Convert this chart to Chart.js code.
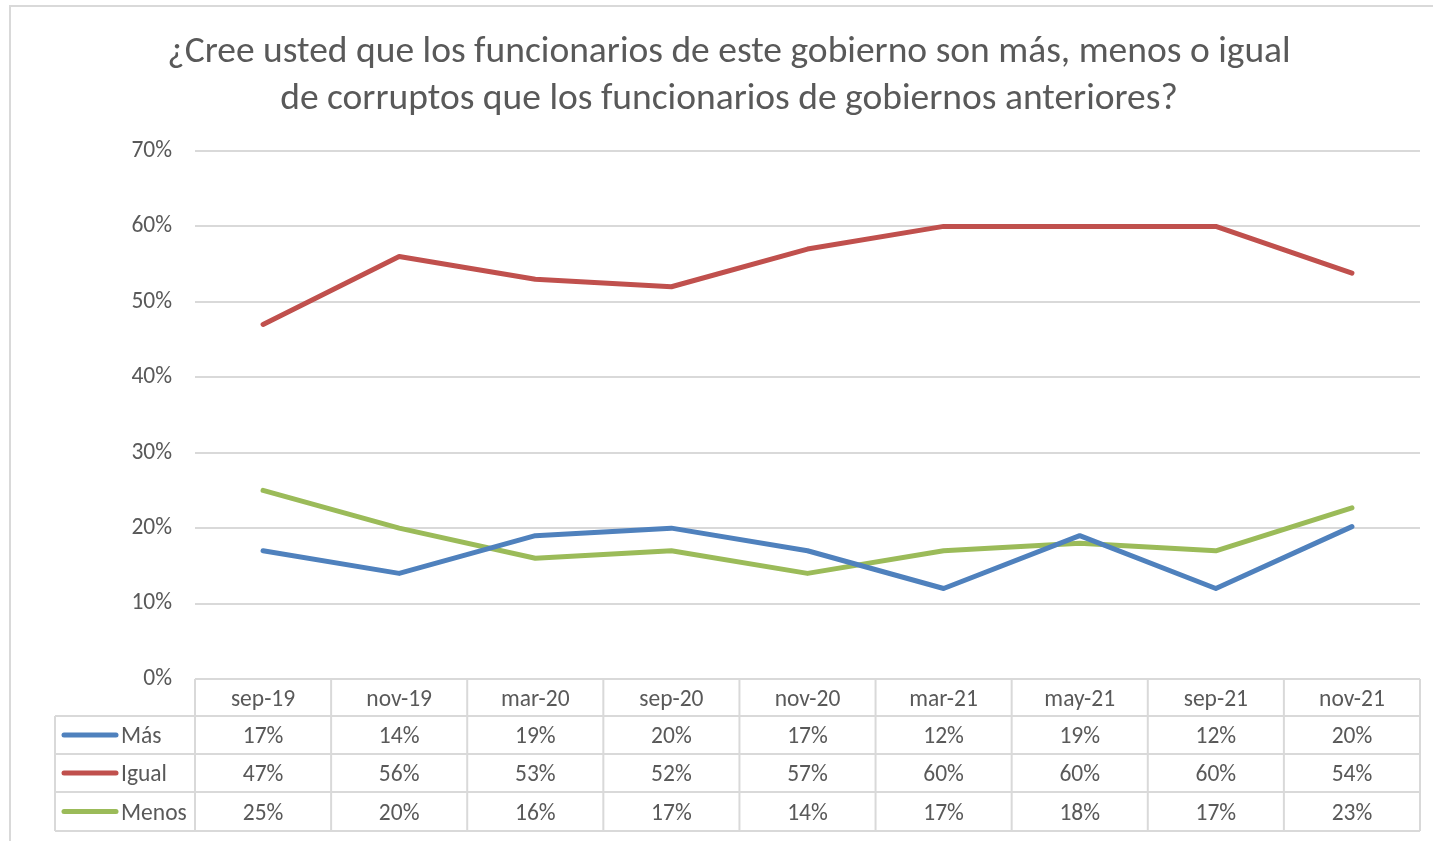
<!DOCTYPE html>
<html>
<head>
<meta charset="utf-8">
<script src="https://cdn.jsdelivr.net/npm/chart.js@4.4.0/dist/chart.umd.min.js"></script>
<style>
  html, body { margin: 0; padding: 0; background: #fff; overflow: hidden; }
  #box {
    position: absolute; left: 9px; top: 5px;
    width: 1440px; height: 850px;
    border: 2px solid #d9d9d9;
  }
</style>
</head>
<body>
<div id="box"><canvas id="c" width="1440" height="850"></canvas></div>
<script>
// data
var periods = ['sep-19', 'nov-19', 'mar-20', 'sep-20', 'nov-20', 'mar-21', 'may-21', 'sep-21', 'nov-21'];
var mas   = [17, 14, 19, 20, 17, 12, 19, 12, 20.2];
var igual = [47, 56, 53, 52, 57, 60, 60, 60, 53.8];
var menos = [25, 20, 16, 17, 14, 17, 18, 17, 22.7];
var seriesNames = ['Más', 'Igual', 'Menos'];
var seriesColors = ['#4f81bd', '#c0504d', '#9bbb59'];
var yTicks = [0, 10, 20, 30, 40, 50, 60, 70];

var FONT = 'Carlito, Lato, sans-serif';
var TEXT = '#595959';
var GRID = '#d9d9d9';
var SMALL = 23.5;

// draws the Excel style data table under the plot, from the x scale
var dataTable = {
    id: 'dataTable',
    afterDraw: function (chart) {
        var ctx = chart.ctx;
        var x = chart.scales.x;
        var area = chart.chartArea;
        var n = periods.length;
        var colW = (area.right - area.left) / n;
        var top = area.bottom;
        var rows = [top, top + 37, top + 75, top + 113, top + 152];
        var legLeft = 44;
        var dy = 2.5; // text sits a bit low in its cell, like Excel

        ctx.save();
        ctx.strokeStyle = GRID;
        ctx.lineWidth = 2;
        ctx.beginPath();
        // header top
        ctx.moveTo(area.left, rows[0]); ctx.lineTo(area.right, rows[0]);
        for (var r = 1; r < rows.length; r++) {
            ctx.moveTo(legLeft, rows[r]); ctx.lineTo(area.right, rows[r]);
        }
        // column borders
        for (var i = 0; i <= n; i++) {
            var bx = area.left + i * colW;
            ctx.moveTo(bx, rows[0]); ctx.lineTo(bx, rows[4]);
        }
        ctx.moveTo(legLeft, rows[1]); ctx.lineTo(legLeft, rows[4]);
        ctx.stroke();

        ctx.font = SMALL + 'px ' + FONT;
        ctx.fillStyle = TEXT;
        ctx.textAlign = 'center';
        ctx.textBaseline = 'middle';
        periods.forEach(function (p, i) {
            ctx.fillText(p, x.getPixelForValue(i), (rows[0] + rows[1]) / 2 + dy);
        });

        chart.data.datasets.forEach(function (ds, k) {
            var cy = (rows[k + 1] + rows[k + 2]) / 2;
            ctx.textAlign = 'center';
            ctx.fillStyle = TEXT;
            ds.data.forEach(function (v, i) {
                ctx.fillText(Math.round(v) + '%', x.getPixelForValue(i), cy + dy);
            });
            // legend key
            ctx.strokeStyle = ds.borderColor;
            ctx.lineWidth = 5;
            ctx.lineCap = 'round';
            ctx.beginPath();
            ctx.moveTo(53, cy); ctx.lineTo(105, cy);
            ctx.stroke();
            ctx.textAlign = 'left';
            ctx.fillText(ds.label, 110, cy + dy);
        });
        ctx.restore();
    }
};

new Chart(document.getElementById('c'), {
    type: 'line',
    data: {
        labels: periods,
        datasets: [mas, igual, menos].map(function (vals, k) {
            return {
                label: seriesNames[k],
                data: vals,
                borderColor: seriesColors[k],
                backgroundColor: seriesColors[k],
                borderWidth: 5,
                borderCapStyle: 'round',
                borderJoinStyle: 'round',
                pointRadius: 0,
                tension: 0
            };
        })
    },
    options: {
        responsive: false,
        animation: false,
        layout: { padding: { left: 27, right: 31, top: 0, bottom: 178 } },
        plugins: {
            legend: { display: false },
            tooltip: { enabled: false },
            title: {
                display: true,
                text: ['¿Cree usted que los funcionarios de este gobierno son más, menos o igual',
                       'de corruptos que los funcionarios de gobiernos anteriores?'],
                color: TEXT,
                font: { family: FONT, size: 37.5, weight: 'normal', lineHeight: 1.253 },
                padding: { top: 22, bottom: 28 }
            }
        },
        scales: {
            x: {
                type: 'category',
                offset: true,
                display: false
            },
            y: {
                min: 0,
                max: 70,
                afterBuildTicks: function (s) {
                    s.ticks = yTicks.map(function (v) { return { value: v }; });
                },
                afterFit: function (s) { s.width = 157; },
                border: { display: false },
                grid: { color: GRID, lineWidth: 2, drawTicks: false },
                ticks: {
                    padding: 23,
                    color: TEXT,
                    font: { family: FONT, size: SMALL },
                    callback: function (v) { return v + '%'; }
                }
            }
        }
    },
    plugins: [dataTable]
});
</script>
</body>
</html>
